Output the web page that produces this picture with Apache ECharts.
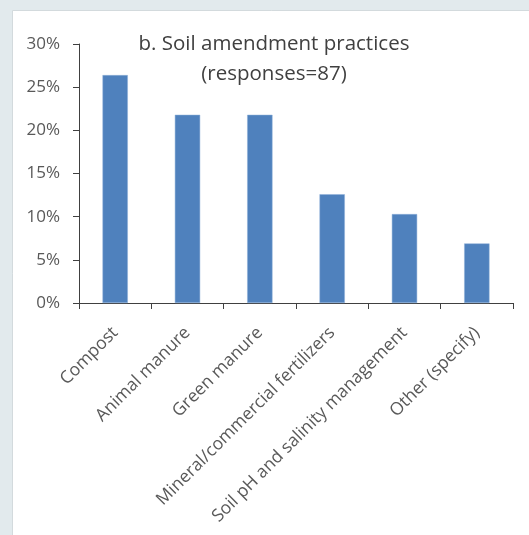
<!DOCTYPE html>
<html>
<head>
<meta charset="utf-8">
<script src="https://cdn.jsdelivr.net/npm/echarts@6/dist/echarts.min.js"></script>
<style>
  html, body { margin: 0; padding: 0; background: #e2eaed; }
  #chart { width: 529px; height: 535px; }
</style>
</head>
<body>
<div id="chart"></div>
<script>
// Share of responses for each soil amendment practice (n = 87)
const categories = [
  'Compost',
  'Animal manure',
  'Green manure',
  'Mineral/commercial fertilizers',
  'Soil pH and salinity management',
  'Other (specify)'
];
const shares = [26.4, 21.8, 21.8, 12.6, 10.3, 6.9];
const yTicks = [0, 5, 10, 15, 20, 25, 30];

const chart = echarts.init(document.getElementById('chart'), null, { renderer: 'canvas' });
const font = '"Open Sans", "Liberation Sans", sans-serif';

chart.setOption({
  backgroundColor: '#e2eaed',
  animation: false,
  graphic: [{
    type: 'rect',
    left: 12, top: 10,
    shape: { width: 530, height: 540 },
    style: { fill: '#ffffff', stroke: '#d3dadd', lineWidth: 1 },
    z: -10
  }],
  title: {
    text: 'b. Soil amendment practices\n(responses=87)',
    left: 269, top: 24,
    textAlign: 'center',
    textStyle: {
      fontFamily: font, fontSize: 20.5, fontWeight: 'normal',
      color: '#404040', lineHeight: 30
    }
  },
  grid: { left: 79, right: 16, top: 44, bottom: 232, containLabel: false },
  xAxis: {
    type: 'category',
    data: categories,
    axisLine: { lineStyle: { color: '#404040', width: 1 } },
    axisTick: { show: true, length: 6, alignWithLabel: false, lineStyle: { color: '#404040' } },
    axisLabel: {
      rotate: 45, interval: 0, margin: 27,
      fontFamily: font, fontSize: 17.5, color: '#595959'
    }
  },
  yAxis: {
    type: 'value',
    min: yTicks[0], max: yTicks[yTicks.length - 1], interval: 5,
    splitLine: { show: false },
    axisLine: { show: true, lineStyle: { color: '#404040', width: 1 } },
    axisTick: { show: true, length: 6, lineStyle: { color: '#404040' } },
    axisLabel: {
      fontFamily: font, fontSize: 17, color: '#595959', margin: 19,
      formatter: v => v + '%'
    }
  },
  series: [{
    type: 'bar',
    data: shares,
    barWidth: '35%',
    itemStyle: { color: '#4f81bd', borderColor: '#8eb0d8', borderWidth: 0.5 }
  }]
});
</script>
</body>
</html>
